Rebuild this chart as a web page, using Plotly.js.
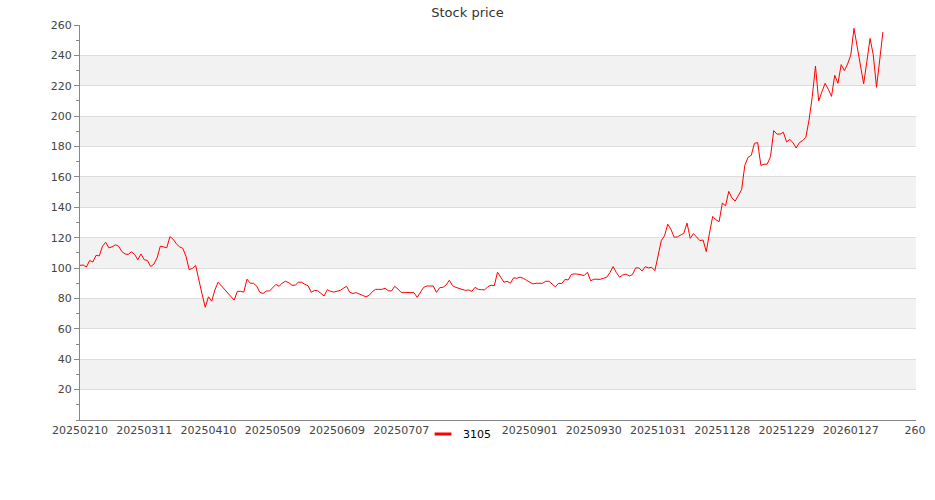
<!DOCTYPE html>
<html>
<head>
<meta charset="utf-8">
<script src="https://cdn.plot.ly/plotly-3.0.1.min.js"></script>
<style>html,body{margin:0;padding:0;background:#fff;}#chart{width:935px;height:500px;}</style>
</head>
<body>
<div id="chart"></div>
<script>
// ---- data ----
const seriesName = "3105";
const prices = [
  101.8,102,100.7,105,104,108.4,108,114.4,117,113.3,
  114,115.3,114.4,111,109.3,109,110.7,109,105.5,109.3,
  105.5,105,101,102.6,106.7,114.4,114,113.3,120.7,119,
  116,114,113,107.8,98.9,99.8,101.8,91.8,82.9,74.2,
  81.1,78.2,85.6,90.7,88.3,86,83.6,81.3,78.9,84.7,
  84.7,84.2,92.7,90,90,88.2,84,83.3,84.9,84.9,
  87.3,89.3,88,90.2,91.3,90.4,88.7,88.7,90.7,90.7,
  89.3,88.4,84,85.3,85.1,83.3,81.6,85.8,84.7,84.2,
  84.7,85.3,86.7,88,84,83.3,83.8,82.7,82,81.1,
  82,84.4,86,86,86,86.7,85.1,84.9,88,86.2,
  84,84,84,83.6,83.8,80.7,83.8,87.3,88.2,88.2,
  88.2,84,87.1,87.3,88.9,92,88.4,87.3,86.5,85.6,
  85.3,85.6,84.7,87.3,86,85.8,85.6,87.8,88.7,88.4,
  97.3,94,90.7,91.3,90,93.6,93.3,94,93.3,92,
  90.7,89.6,90,90,90,91.3,91.3,89.5,87.6,90,
  89.8,92.5,92.2,95.8,96.2,96,95.8,95.1,97.3,91.6,
  92.7,92.4,92.6,93.3,94,97,101,97,94,95.5,
  96.1,94.8,95.7,100.1,100.1,98.1,100.9,100.1,100.5,98.3,
  108,118.1,121.2,128.9,125.5,120.3,120.5,121.5,122.9,129.6,
  119.6,122.7,120.5,118.1,118.5,110.8,123,134,131.8,130.5,
  142.8,141,150.5,146.1,144.1,147.8,151.6,167.6,172.9,174.2,
  182.1,182.6,167.6,168.3,168.5,173.3,190.5,188.2,188.2,189.4,
  183,184.7,182.6,179,182.6,183.9,186.1,197.5,212.8,233,
  210,216,221.6,217.7,213,226.9,221.6,233.9,230,234.3,
  240.3,257.8,245.5,233.3,221.2,236,251.2,240.3,219,237,
  255.4
];
// the label at position 120 is hidden behind the legend in the reference
const xTickPositions = [0,20,40,60,80,100,120,140,160,180,200,220,240,260];
const xTickLabels = ["20250210","20250311","20250410","20250509","20250609","20250707","",
                     "20250901","20250930","20251031","20251128","20251229","20260127","260"];
const yTicks = [20,40,60,80,100,120,140,160,180,200,220,240,260];

// ---- chart ----
const idx = prices.map((_, i) => i);
const bands = [];
for (let i = 0; i + 1 < yTicks.length; i += 2) {
  bands.push({type:"rect", xref:"paper", yref:"y", x0:0, x1:1, y0:yTicks[i], y1:yTicks[i+1],
              fillcolor:"#f2f2f2", line:{width:0}, layer:"below"});
}
const font = "DejaVu Sans, sans-serif";
const traces = [
  {x: idx, y: prices, type: "scatter", mode: "lines", name: seriesName, showlegend: false,
   line: {color: "#ff0000", width: 1}, hoverinfo: "x+y"},
  {x: [null], y: [null], type: "scatter", mode: "markers", name: seriesName, showlegend: true,
   marker: {symbol: "line-ew", size: 12, color: "#ff0000", line: {color: "#ff0000", width: 3}}}
];
const layout = {
  width: 935, height: 500,
  margin: {l: 80, r: 19, t: 25, b: 80, pad: 0},
  paper_bgcolor: "#ffffff", plot_bgcolor: "#ffffff",
  font: {family: font, size: 11, color: "#444"},
  title: {text: "Stock price", font: {family: font, size: 13, color: "#333"},
          xref: "container", x: 0.5, xanchor: "center", yref: "container", y: 0.976, yanchor: "middle"},
  xaxis: {range: [0, 260.3], tickmode: "array", tickvals: xTickPositions, ticktext: xTickLabels,
          showgrid: false, zeroline: false, showline: true, linecolor: "#888", linewidth: 1,
          ticks: "", tickfont: {family: font, size: 11, color: "#444"}, fixedrange: true},
  yaxis: {range: [0, 260], tickmode: "array", tickvals: yTicks, showgrid: true, gridcolor: "#dddddd",
          zeroline: false, showline: true, linecolor: "#888", linewidth: 1,
          ticks: "outside", ticklen: 5, tickcolor: "#888",
          minor: {tick0: 0, dtick: 10, ticks: "outside", ticklen: 3, tickcolor: "#888", showgrid: false},
          tickfont: {family: font, size: 11, color: "#444"}, fixedrange: true},
  shapes: bands,
  showlegend: true,
  legend: {orientation: "h", x: 0.4103, xanchor: "left", y: -0.0354, yanchor: "middle",
           bgcolor: "rgba(0,0,0,0)", borderwidth: 0, font: {family: font, size: 11, color: "#000"}}
};
Plotly.newPlot("chart", traces, layout, {displayModeBar: false, staticPlot: true});
</script>
</body>
</html>
